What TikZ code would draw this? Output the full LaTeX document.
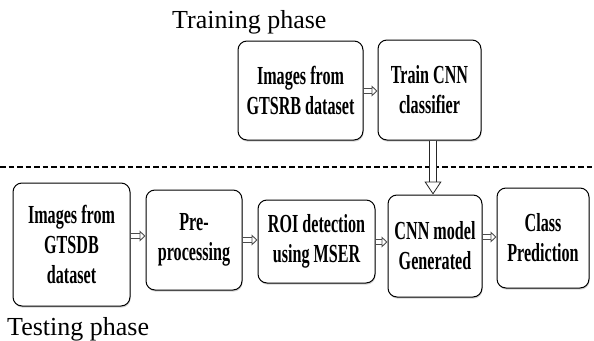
\documentclass[tikz,border=0pt]{standalone}
\usepackage{fontspec}
\setmainfont{Liberation Serif}
\newfontfamily\boxfont[FakeStretch=0.62]{Liberation Serif}
\usetikzlibrary{arrows.meta,shadows}

\tikzset{
  stage/.style={draw, line width=1pt, rounded corners=9pt, fill=white, align=center, inner sep=1pt,
    drop shadow={shadow xshift=0.6pt, shadow yshift=-1.6pt, fill=gray!70},
    font=\boxfont\bfseries\fontsize{26}{30}\selectfont},
  flow/.style={draw=black!70, line width=0.9pt, double=white, double distance=3.6pt,
    -{Triangle[open, length=6pt, width=11pt]}},
  bigflow/.style={draw=black!85, line width=0.8pt, double=white, double distance=6pt,
    -{Triangle[open, length=13pt, width=17pt]}},
  phase/.style={font=\fontsize{26}{30}\selectfont, inner sep=0pt, anchor=base west},
}

\begin{document}
\begin{tikzpicture}[x=1pt, y=-1pt]
  \useasboundingbox (0,0) rectangle (594,340);

  % phase labels
  \node[phase] (train) at (172,28) {Training phase};
  \node[phase] (test) at (7,335) {Testing phase};

  % training row
  \node[stage, minimum width=125pt, minimum height=99pt] (gtsrb) at (300.5,90.5) {Images from\\GTSRB dataset};
  \node[stage, minimum width=103pt, minimum height=100pt] (train cnn) at (429.5,90) {Train CNN\\classifier};

  % testing row
  \node[stage, minimum width=117pt, minimum height=123pt] (gtsdb) at (71.5,244.5) {Images from\\GTSDB\\dataset};
  \node[stage, minimum width=96pt, minimum height=100pt] (prep) at (194,240) {Pre-\\processing};
  \node[stage, minimum width=117pt, minimum height=83pt] (roi) at (316.5,241.5) {ROI detection\\using MSER};
  \node[stage, minimum width=94pt, minimum height=102pt] (model) at (435,246) {CNN model\\Generated};
  \node[stage, minimum width=92pt, minimum height=100pt] (pred) at (543,238) {Class\\Prediction};

  % phase separator
  \draw[line width=1.1pt, dash pattern=on 5.5pt off 3pt] (0,167) -- (594,167);

  \draw[flow] (gtsrb.east |- 0,91) -- (train cnn.west |- 0,91);
  \draw[bigflow] (train cnn.south -| 433,0) -- (model.north -| 433,0);

  \draw[flow] (gtsdb.east |- 0,236) -- (prep.west |- 0,236);
  \draw[flow] (prep.east |- 0,240) -- (roi.west |- 0,240);
  \draw[flow] (roi.east |- 0,242) -- (model.west |- 0,242);
  \draw[flow] (model.east |- 0,237) -- (pred.west |- 0,237);
\end{tikzpicture}
\end{document}
